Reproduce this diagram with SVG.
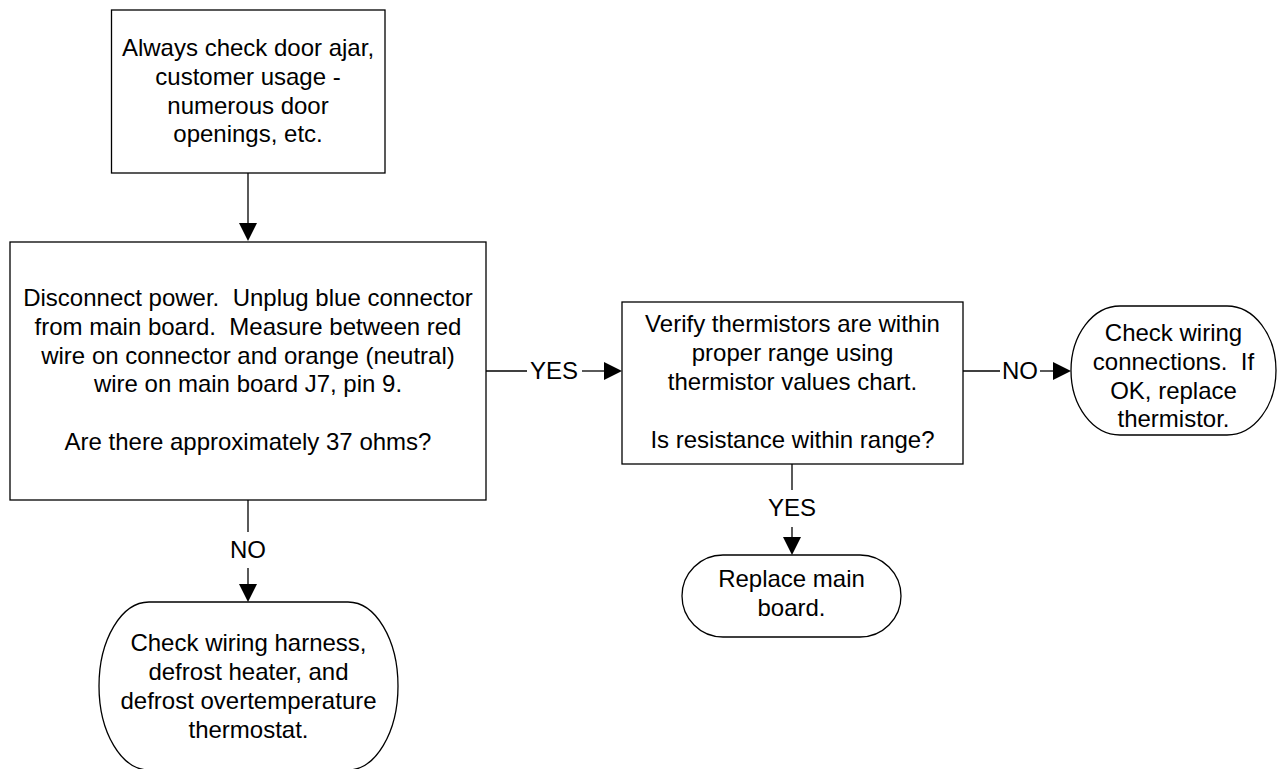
<svg xmlns="http://www.w3.org/2000/svg" width="1277" height="769" viewBox="0 0 1277 769">
<style>
.box{fill:#fff;stroke:#000;stroke-width:1.3}
.t{font-family:"Liberation Sans",Arial,sans-serif;font-size:24px;fill:#000;text-anchor:middle}
.ln{stroke:#000;stroke-width:1.3;fill:none}
.ah{fill:#000}
</style>
<rect width="1277" height="769" fill="#fff"/>
<g id="connectors">
<line class="ln" x1="248" y1="173" x2="248" y2="224"/>
<polygon class="ah" points="239,223 257,223 248,241"/>
<line class="ln" x1="486" y1="371" x2="527" y2="371"/>
<text class="t" x="554" y="379">YES</text>
<line class="ln" x1="582" y1="371" x2="606" y2="371"/>
<polygon class="ah" points="604,362 604,380 622,371"/>
<line class="ln" x1="963" y1="371" x2="1000" y2="371"/>
<text class="t" x="1020" y="379">NO</text>
<line class="ln" x1="1040" y1="371" x2="1055" y2="371"/>
<polygon class="ah" points="1053,362 1053,380 1071,371"/>
<line class="ln" x1="792" y1="464" x2="792" y2="490"/>
<text class="t" x="792" y="516">YES</text>
<line class="ln" x1="792" y1="527" x2="792" y2="539"/>
<polygon class="ah" points="783,537 801,537 792,555"/>
<line class="ln" x1="248" y1="500" x2="248" y2="532"/>
<text class="t" x="248" y="558">NO</text>
<line class="ln" x1="248" y1="568" x2="248" y2="586"/>
<polygon class="ah" points="239,584 257,584 248,602"/>
</g>
<g id="n1">
<rect class="box" x="111.5" y="10" width="273.5" height="163"/>
<text class="t" x="248" y="56">Always check door ajar,</text>
<text class="t" x="248" y="84.8">customer usage -</text>
<text class="t" x="248" y="113.6">numerous door</text>
<text class="t" x="248" y="142.4">openings, etc.</text>
</g>
<g id="n2">
<rect class="box" x="10" y="242" width="476" height="258"/>
<text class="t" x="248" y="306" xml:space="preserve">Disconnect power.  Unplug blue connector</text>
<text class="t" x="248" y="334.8" xml:space="preserve">from main board.  Measure between red</text>
<text class="t" x="248" y="363.6">wire on connector and orange (neutral)</text>
<text class="t" x="248" y="392.4">wire on main board J7, pin 9.</text>
<text class="t" x="248" y="450">Are there approximately 37 ohms?</text>
</g>
<g id="n3">
<rect class="box" x="622" y="302" width="341" height="162"/>
<text class="t" x="792.5" y="332">Verify thermistors are within</text>
<text class="t" x="792.5" y="361">proper range using</text>
<text class="t" x="792.5" y="390">thermistor values chart.</text>
<text class="t" x="792.5" y="448">Is resistance within range?</text>
</g>
<g id="n4">
<rect class="box" x="1071" y="306" width="205" height="129" rx="49" ry="64.5"/>
<text class="t" x="1173.5" y="341">Check wiring</text>
<text class="t" x="1173.5" y="369.8" xml:space="preserve">connections.  If</text>
<text class="t" x="1173.5" y="398.6">OK, replace</text>
<text class="t" x="1173.5" y="427.4">thermistor.</text>
</g>
<g id="n5">
<rect class="box" x="682" y="555" width="219" height="82" rx="41" ry="41"/>
<text class="t" x="791.5" y="587">Replace main</text>
<text class="t" x="791.5" y="616">board.</text>
</g>
<g id="n6">
<rect class="box" x="99" y="602" width="299" height="168" rx="50" ry="84"/>
<text class="t" x="248.5" y="651">Check wiring harness,</text>
<text class="t" x="248.5" y="680">defrost heater, and</text>
<text class="t" x="248.5" y="709">defrost overtemperature</text>
<text class="t" x="248.5" y="738">thermostat.</text>
</g>
</svg>
